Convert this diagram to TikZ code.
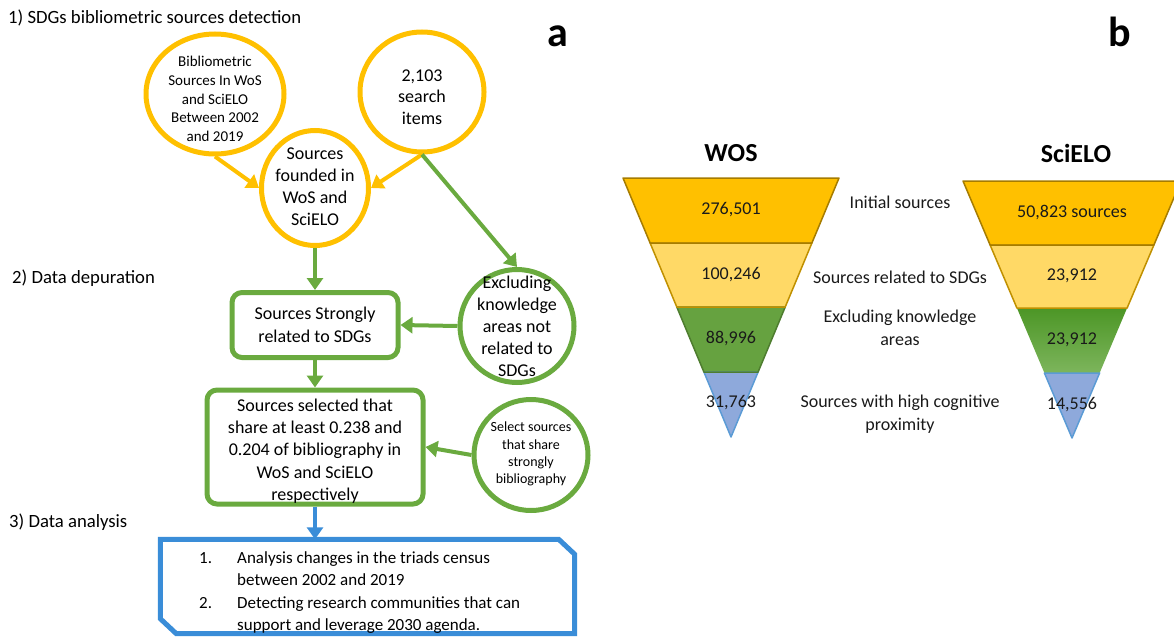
\documentclass[tikz,border=0pt]{standalone}
\usepackage{fontspec}
\setmainfont{Carlito}
\usetikzlibrary{arrows.meta,shapes.geometric}
\definecolor{cyel}{HTML}{FFC000}
\definecolor{cgrn}{HTML}{6AAA3F}
\definecolor{cblu}{HTML}{3A8DD8}
\definecolor{forange}{HTML}{FFC000}
\definecolor{forangeline}{HTML}{A67C00}
\definecolor{flyel}{HTML}{FFD966}
\definecolor{flyelline}{HTML}{C09000}
\definecolor{fgreen}{HTML}{66A240}
\definecolor{fgreenline}{HTML}{4E7D2F}
\definecolor{fgreendark}{HTML}{4C9626}
\definecolor{fgreenlight}{HTML}{7DB55C}
\definecolor{fblue}{HTML}{8EA9DB}
\definecolor{fblueline}{HTML}{5B9BD5}
\definecolor{txtc}{HTML}{1A1A1A}
\newcommand\fsz[2]{\fontsize{#1}{#2}\selectfont}
\begin{document}
\begin{tikzpicture}[x=1pt,y=-1pt,
  ycirc/.style={ellipse, draw=cyel, line width=5pt, inner sep=0pt},
  gcirc/.style={ellipse, draw=cgrn, line width=5pt, inner sep=0pt},
  gbox/.style={rectangle, rounded corners=10pt, draw=cgrn, line width=5pt, inner sep=0pt},
  bframe/.style={rectangle, inner sep=0pt},
  bline/.style={draw=cblu, line width=5pt, line join=miter},
  tip/.style={-{Triangle[width=16pt,length=12pt]}},
  yarr/.style={tip, draw=cyel, line width=4pt},
  garr/.style={tip, draw=cgrn, line width=4pt},
  barr/.style={tip, draw=cblu, line width=4pt},
  lbl/.style={inner sep=0pt, align=center, text=black},
  sec/.style={lbl, anchor=west, font=\fsz{18.7}{22}},
  flab/.style={inner sep=0pt, align=center, text=txtc, font=\fsz{18}{22.5}},
  band/.style={line width=1.5pt, line join=round}
]
\useasboundingbox (0,0) rectangle (1174,637);
\clip (0,0) rectangle (1174,637);

% section labels
\node[sec] (s1) at (8,18) {1) SDGs bibliometric sources detection};
\node[sec] (s2) at (12,278) {2) Data depuration};
\node[sec] (s3) at (9,522) {3) Data analysis};
\node[lbl, font=\fsz{42}{46}\bfseries] (la) at (558,36) {a};
\node[lbl, font=\fsz{42}{46}\bfseries] (lb) at (1120,32) {b};

% flowchart shapes
\node[ycirc, minimum width=138pt, minimum height=120pt] (biblio) at (215,94) {};
\node[ycirc, minimum width=124pt, minimum height=120pt] (items) at (422,92) {};
\node[ycirc, minimum width=107pt, minimum height=115pt] (found) at (315,188) {};
\node[gbox, minimum width=166pt, minimum height=65pt] (box1) at (315,325) {};
\node[gcirc, minimum width=114pt, minimum height=113pt] (excl) at (517,326) {};
\node[gbox, minimum width=216pt, minimum height=114pt] (box2) at (315,447) {};
\node[gcirc, minimum width=114pt, minimum height=111pt] (sel) at (531,455) {};
\node[bframe, minimum width=414pt, minimum height=94pt] (ana) at (367.5,586.5) {};
\draw[bline] (ana.north west) -- ([xshift=-16pt]ana.north east) -- ([yshift=-15pt]ana.north east)
  -- (ana.south east) -- ([xshift=16pt]ana.south west) -- ([yshift=15pt]ana.south west) -- cycle;

% texts
\node[lbl, font=\fsz{15}{18.7}] (tbiblio) at (215,99) {Bibliometric\\Sources In WoS\\and SciELO\\Between 2002\\and 2019};
\node[lbl, font=\fsz{18}{21.7}] (titems) at (422,97) {2,103\\search\\items};
\node[lbl, font=\fsz{18}{22}] (tfound) at (315,187) {Sources\\founded in\\WoS and\\SciELO};
\node[lbl, font=\fsz{18}{22.7}] (tbox1) at (315,325) {Sources Strongly\\related to SDGs};
\node[lbl, font=\fsz{18}{22}] (texcl) at (517,326) {Excluding\\knowledge\\areas not\\related to\\SDGs};
\node[lbl, font=\fsz{18}{22.3}] (tbox2) at (315,451) {Sources selected that\\share at least 0.238 and\\0.204 of bibliography in\\WoS and SciELO\\respectively};
\node[lbl, font=\fsz{14}{17.3}] (tsel) at (531,454) {Select sources\\that share\\strongly\\bibliography};
\node[lbl, anchor=west, font=\fsz{17}{22.3}] (tana) at (199,592.5)
 {\begin{tabular}{@{}p{38pt}@{}l@{}}1. & Analysis changes in the triads census\\
  & between 2002 and 2019\\ 2. & Detecting research communities that can\\
  & support and leverage 2030 agenda.\end{tabular}};

% connectors
\draw[yarr] (biblio.south) -- (found.west);
\draw[yarr] (items.south) -- (found.east);
\draw[garr] (items.south) -- (excl.north);
\draw[garr] (found.south) -- (box1.north);
\draw[garr] (excl.west) -- (box1.east);
\draw[garr] (box1.south) -- (box2.north);
\draw[garr] (sel.west) -- (box2.east);
\draw[barr] (box2.south) -- (box2.south |- ana.north);

% funnels: WOS
\fill[forange] (623,178) -- (839,178) -- (811.9,243) -- (650.1,243) -- cycle;
\fill[flyel] (650.1,243) -- (811.9,243) -- (785.2,307) -- (676.8,307) -- cycle;
\fill[fgreen] (676.8,307) -- (785.2,307) -- (758.1,372) -- (703.9,372) -- cycle;
\fill[fblue] (703.9,372) -- (758.1,372) -- (731,437) -- cycle;
\draw[band, draw=fblueline] (703.9,372) -- (758.1,372) -- (731,437) -- cycle;
\draw[band, draw=fgreenline] (676.8,307) -- (785.2,307) -- (758.1,372) -- (703.9,372) -- cycle;
\draw[band, draw=flyelline] (650.1,243) -- (811.9,243) -- (785.2,307) -- (676.8,307) -- cycle;
\draw[band, draw=forangeline] (623,178) -- (839,178) -- (811.9,243) -- (650.1,243) -- cycle;

% funnels: SciELO
\fill[forange] (963,181) -- (1181,181) -- (1153.9,245) -- (990.1,245) -- cycle;
\fill[flyel] (990.1,245) -- (1153.9,245) -- (1127.1,308) -- (1016.9,308) -- cycle;
\shade[top color=fgreendark, bottom color=fgreenlight] (1016.9,308) -- (1127.1,308) -- (1099.6,373) -- (1044.4,373) -- cycle;
\fill[fblue] (1044.4,373) -- (1099.6,373) -- (1072,438) -- cycle;
\draw[band, draw=fblueline] (1044.4,373) -- (1099.6,373) -- (1072,438) -- cycle;
\draw[band, draw=flyelline] (990.1,245) -- (1153.9,245) -- (1127.1,308) -- (1016.9,308) -- cycle;
\draw[band, draw=forangeline] (963,181) -- (1181,181) -- (1153.9,245) -- (990.1,245) -- cycle;

% funnel titles and labels
\node[lbl, font=\fsz{26}{30}\bfseries] (wos) at (731,153) {WOS};
\node[lbl, font=\fsz{26}{30}\bfseries] (sci) at (1076,153) {SciELO};
\node[flab] (w1) at (731,210) {276,501};
\node[flab] (w2) at (731,275) {100,246};
\node[flab] (w3) at (731,338) {88,996};
\node[flab] (w4) at (731,403) {31,763};
\node[flab] (c1) at (1072,212) {50,823 sources};
\node[flab] (c2) at (1072,276) {23,912};
\node[flab] (c3) at (1072,340) {23,912};
\node[flab] (c4) at (1072,405) {14,556};
\node[flab] (m1) at (900,202) {Initial sources};
\node[flab] (m2) at (900,277) {Sources related to SDGs};
\node[flab] (m3) at (900,328) {Excluding knowledge\\areas};
\node[flab] (m4) at (900,414) {Sources with high cognitive\\proximity};
\end{tikzpicture}
\end{document}
